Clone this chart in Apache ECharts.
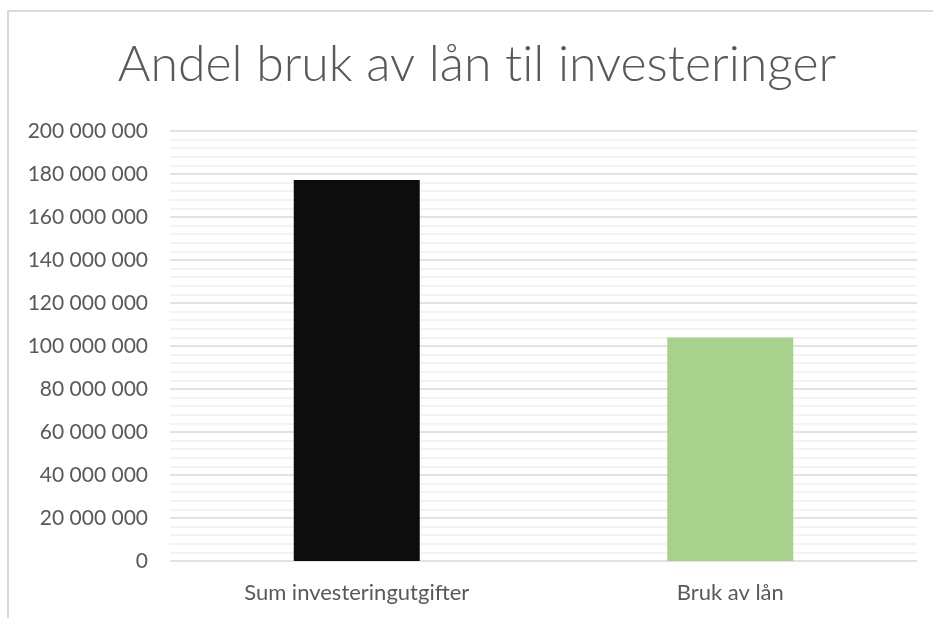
<!DOCTYPE html>
<html>
<head>
<meta charset="utf-8">
<script src="https://cdn.jsdelivr.net/npm/echarts@6/dist/echarts.min.js"></script>
<style>
html,body{margin:0;padding:0;background:#fff;}
#chart{width:933px;height:618px;}
</style>
</head>
<body>
<div id="chart"></div>
<script>
const titleText = 'Andel bruk av lån til investeringer';
const categories = ['Sum investeringutgifter', 'Bruk av lån'];
const values = [177200000, 103900000];
const barColors = ['#0d0d0d', '#a9d18e'];
const yMax = 200000000;
const yInterval = 20000000;

function fmt(v) {
  return String(Math.round(v)).replace(/\B(?=(\d{3})+(?!\d))/g, ' ');
}
// avoid the "ti" ligature of Lato
function noLig(s) { return s.replace(/ti/g, 't\u200Ci'); }

const chart = echarts.init(document.getElementById('chart'), null, {renderer: 'canvas'});
chart.setOption({
  animation: false,
  backgroundColor: '#ffffff',
  graphic: [{
    type: 'rect',
    shape: {x: 8, y: 11, width: 1000, height: 700},
    style: {fill: 'none', stroke: '#d9d9d9', lineWidth: 2},
    silent: true
  }],
  title: {
    text: noLig(titleText),
    left: 472,
    textAlign: 'center',
    top: 35,
    textStyle: {
      fontFamily: 'Lato',
      fontWeight: 300,
      fontSize: 50,
      color: '#595959'
    }
  },
  grid: {left: 170, right: 16, top: 131, bottom: 57, containLabel: false},
  xAxis: {
    type: 'category',
    data: categories,
    axisLine: {show: false},
    axisTick: {show: false},
    axisLabel: {
      margin: 21,
      fontFamily: 'Lato',
      fontSize: 22,
      color: '#595959'
    }
  },
  yAxis: {
    type: 'value',
    min: 0,
    max: yMax,
    interval: yInterval,
    axisLine: {show: false},
    axisTick: {show: false},
    axisLabel: {
      margin: 22,
      fontFamily: 'Lato',
      fontSize: 21,
      color: '#595959',
      formatter: fmt
    },
    splitLine: {show: true, lineStyle: {color: '#d9d9d9', width: 1.5}},
    minorTick: {show: false, splitNumber: 5},
    minorSplitLine: {show: true, lineStyle: {color: '#f0f0f0', width: 1.5}}
  },
  series: [{
    type: 'bar',
    barWidth: 126,
    data: values.map((v, i) => ({value: v, itemStyle: {color: barColors[i]}})),
    itemStyle: {borderColor: 'rgba(0,0,0,0)'}
  }]
});
</script>
</body>
</html>
